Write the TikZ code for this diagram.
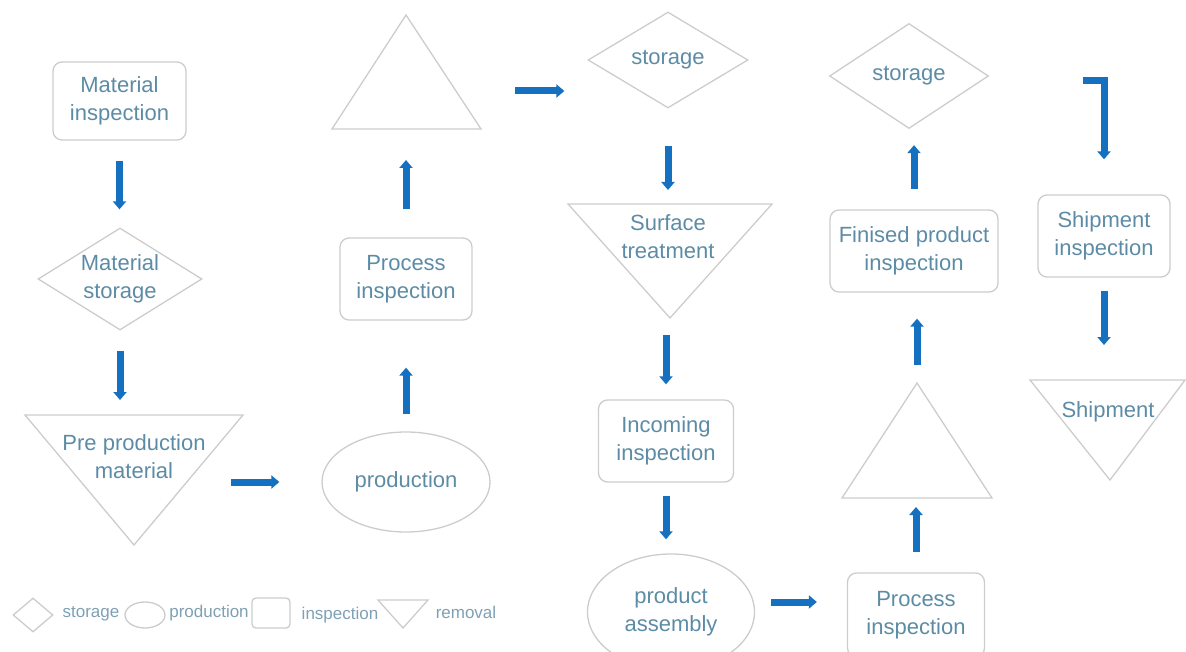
\documentclass[tikz,border=0pt]{standalone}
\usepackage{fontspec}
\setmainfont{Liberation Sans}
\usetikzlibrary{shapes.geometric,arrows.meta}

\definecolor{flowblue}{RGB}{22,112,192}
\definecolor{labelc}{RGB}{92,140,165}
\definecolor{legc}{RGB}{125,160,180}
\definecolor{edgec}{RGB}{204,204,204}

\begin{document}
\begin{tikzpicture}[x=1pt,y=-1pt,
  box/.style={draw=edgec, line width=1.3pt, rounded corners=9pt, align=center, text=labelc},
  store/.style={diamond, draw=edgec, line width=1.3pt, aspect=1.6, align=center, text=labelc},
  make/.style={ellipse, draw=edgec, line width=1.3pt, align=center, text=labelc},
  outline/.style={draw=edgec, line width=1.3pt, line join=miter},
  lbl/.style={text=labelc, align=center},
  leg/.style={text=legc, font=\fontsize{17}{20}\selectfont},
  flow/.style={draw=flowblue, line width=7pt, line join=miter, -{Triangle[width=13pt,length=8pt]}}]
\tikzstyle{every node}+=[inner sep=0pt, font=\fontsize{22}{28}\selectfont]
\useasboundingbox (0,0) rectangle (1186,652);

\node[box, minimum width=133pt, minimum height=78pt] (matinsp) at (119.5,101) {Material\\inspection};
\node[store, minimum width=164pt, minimum height=102pt] (matstor) at (120,279) {Material\\storage};
\draw[outline] (25,415) coordinate (ppml) -- (243,415) -- (134,545) -- cycle;
\node[lbl] (ppm) at (134,457) {Pre production\\material};
\node[make, minimum width=168pt, minimum height=100pt] (prod) at (406,482) {production};
\node[box, minimum width=132pt, minimum height=82pt] (procinsp) at (406,279) {Process\\inspection};
\draw[outline] (406,15) -- (481,129) -- (332,129) -- cycle;
\coordinate (upab) at (406,129);
\coordinate (upae) at (515,91);
\node[store, minimum width=160pt, minimum height=96pt] (stora) at (668,60) {storage};
\draw[outline] (568,204) -- (772,204) -- (670,318) coordinate (surfb) -- cycle;
\coordinate (surft) at (670,204);
\node[lbl] (surf) at (668,237) {Surface\\treatment};
\node[box, minimum width=135pt, minimum height=82pt] (incinsp) at (666,441) {Incoming\\inspection};
\node[make, minimum width=167pt, minimum height=116pt] (assem) at (671,612) {product\\assembly};
\node[box, minimum width=137pt, minimum height=84pt] (procinspb) at (916,615) {Process\\inspection};
\draw[outline] (917,383) coordinate (upbt) -- (992,498) -- (842,498) -- cycle;
\coordinate (upbb) at (917,498);
\node[box, minimum width=168pt, minimum height=82pt] (fininsp) at (914,251) {Finised product\\inspection};
\node[store, minimum width=159pt, minimum height=105pt] (storb) at (909,76) {storage};
\coordinate (bend) at (1083,81);
\node[box, minimum width=132pt, minimum height=82pt] (shipinsp) at (1104,236) {Shipment\\inspection};
\draw[outline] (1030,380) -- (1185,380) -- (1110,480) -- cycle;
\coordinate (shipt) at (1104,380);
\node[lbl] (ship) at (1108,412) {Shipment};

\draw[flow, shorten <=20pt, shorten >=18pt] (matinsp.south) -- (matinsp.south |- matstor.north);
\draw[flow, shorten <=20pt, shorten >=15pt] (matstor.south) -- (matstor.south |- ppml);
\draw[flow] ([xshift=-90pt]prod.west) -- ([xshift=-42pt]prod.west);
\draw[flow, shorten <=17pt, shorten >=47pt] (prod.north) -- (procinsp.south);
\draw[flow, shorten <=28pt, shorten >=31pt] (procinsp.north) -- (upab);
\draw[flow, shorten >=23pt] (upae) -- (upae -| stora.west);
\draw[flow, shorten <=37pt, shorten >=14pt] (stora.south) -- (stora.south |- surft);
\draw[flow, shorten <=17pt, shorten >=15pt] (incinsp.north |- surfb) -- (incinsp.north);
\draw[flow, shorten <=13pt, shorten >=14pt] (incinsp.south) -- (incinsp.south |- assem.north);
\draw[flow, shorten <=16pt, shorten >=30pt] ([yshift=10pt]assem.east) -- ([yshift=10pt]assem.east -| procinspb.west);
\draw[flow, shorten <=20pt, shorten >=9pt] (procinspb.north) -- (procinspb.north |- upbb);
\draw[flow, shorten <=18pt, shorten >=26pt] (upbt) -- (upbt |- fininsp.south);
\draw[flow, shorten <=20pt, shorten >=16pt] (fininsp.north) -- (fininsp.north |- storb.south);
\draw[flow, shorten >=35pt] (bend) -| (shipinsp.north);
\draw[flow, shorten <=13pt, shorten >=35pt] (shipinsp.south) -- (shipt);

\node[store, aspect=1.2, minimum width=40pt, minimum height=34pt] (legstor) at (33,615) {};
\node[leg] (legstort) at (91,614) {storage};
\node[make, minimum width=40pt, minimum height=26pt] (legprod) at (145,615) {};
\node[leg] (legprodt) at (209,613) {production};
\node[box, rounded corners=4pt, minimum width=38pt, minimum height=30pt] (leginsp) at (271,613) {};
\node[leg] (leginspt) at (340,615) {inspection};
\draw[outline] (378,600) -- (428,600) -- (403,628) -- cycle;
\node[leg] (legremt) at (466,612) {removal};
\end{tikzpicture}
\end{document}
